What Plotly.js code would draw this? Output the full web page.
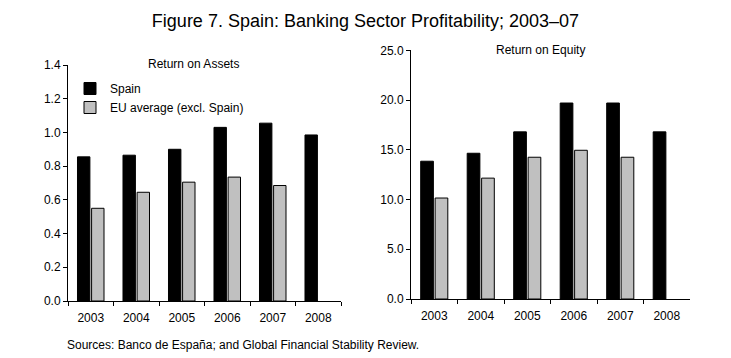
<!DOCTYPE html>
<html><head><meta charset="utf-8">
<script src="https://cdn.plot.ly/plotly-3.0.1.min.js"></script>
<style>html,body{margin:0;padding:0;background:#fff}#chart{width:731px;height:358px}</style>
</head><body><div id="chart"></div>
<script>
const years = ['2003','2004','2005','2006','2007','2008'];
const roaSpain = [0.855, 0.865, 0.90, 1.03, 1.055, 0.985];
const roaEU = [0.55, 0.645, 0.705, 0.735, 0.685, null];
const roeSpain = [13.85, 14.65, 16.8, 19.7, 19.7, 16.8];
const roeEU = [10.15, 12.15, 14.25, 14.95, 14.25, null];

const F = 'Liberation Sans, Arial, sans-serif';
const blackBar = {color:'#000000', line:{color:'#000000', width:1}};
const grayBar = {color:'#c0c0c0', line:{color:'#000000', width:1}};

const data = [
  {type:'bar', x:years, y:roaSpain, name:'Spain', marker:blackBar, xaxis:'x', yaxis:'y', legendgroup:'s'},
  {type:'bar', x:years, y:roaEU, name:'EU average (excl. Spain)', marker:grayBar, xaxis:'x', yaxis:'y', legendgroup:'e'},
  {type:'bar', x:years, y:roeSpain, name:'Spain', marker:blackBar, xaxis:'x2', yaxis:'y2', showlegend:false},
  {type:'bar', x:years, y:roeEU, name:'EU average (excl. Spain)', marker:grayBar, xaxis:'x2', yaxis:'y2', showlegend:false}
];

const H = 358, W = 731;
const xax = (d, anchor) => ({
  domain:d, anchor:anchor, type:'category', showline:true, linecolor:'#000', linewidth:1,
  ticks:'outside', tickson:'boundaries', ticklen:4, tickcolor:'#000', showgrid:false,
  ticklabelstandoff:6, tickfont:{family:F, size:12, color:'#000'}, fixedrange:true
});
const yax = (d, anchor, range, dtick) => ({
  domain:d, anchor:anchor, range:range, dtick:dtick, tickformat:'.1f', showline:true,
  linecolor:'#000', linewidth:1, ticks:'outside', ticklen:4, tickcolor:'#000',
  showgrid:false, zeroline:false, tickfont:{family:F, size:12, color:'#000'}
});

const layout = {
  width:W, height:H, margin:{l:0, r:0, t:0, b:0}, paper_bgcolor:'#fff', plot_bgcolor:'#fff',
  barmode:'group', bargap:0.38, bargroupgap:0.12,
  title:{text:'Figure 7. Spain: Banking Sector Profitability; 2003–07', font:{family:F, size:18, color:'#000'},
         x:0.5, xanchor:'center', y:1-21/H, yanchor:'middle'},
  xaxis: xax([68/W, 341/W], 'y'),
  yaxis: yax([1-301/H, 1-65/H], 'x', [0, 1.4], 0.2),
  xaxis2: xax([411/W, 690/W], 'y2'),
  yaxis2: yax([1-299/H, 1-50.3/H], 'x2', [0, 25], 5),
  showlegend:true,
  legend:{x:70/W, y:1-74/H, xanchor:'left', yanchor:'top', bgcolor:'rgba(0,0,0,0)',
          font:{family:F, size:12, color:'#000'}, tracegroupgap:0, itemwidth:30},
  annotations:[
    {text:'Return on Assets', xref:'paper', yref:'paper', x:193/W, y:1-64/H, xanchor:'center', yanchor:'middle',
     showarrow:false, font:{family:F, size:12, color:'#000'}},
    {text:'Return on Equity', xref:'paper', yref:'paper', x:540/W, y:1-50/H, xanchor:'center', yanchor:'middle',
     showarrow:false, font:{family:F, size:12, color:'#000'}},
    {text:'Sources: Banco de España; and Global Financial Stability Review.', xref:'paper', yref:'paper',
     x:65/W, y:1-345/H, xanchor:'left', yanchor:'middle', showarrow:false, font:{family:F, size:12, color:'#000'}}
  ]
};
Plotly.newPlot('chart', data, layout, {displayModeBar:false, staticPlot:true});
</script></body></html>
